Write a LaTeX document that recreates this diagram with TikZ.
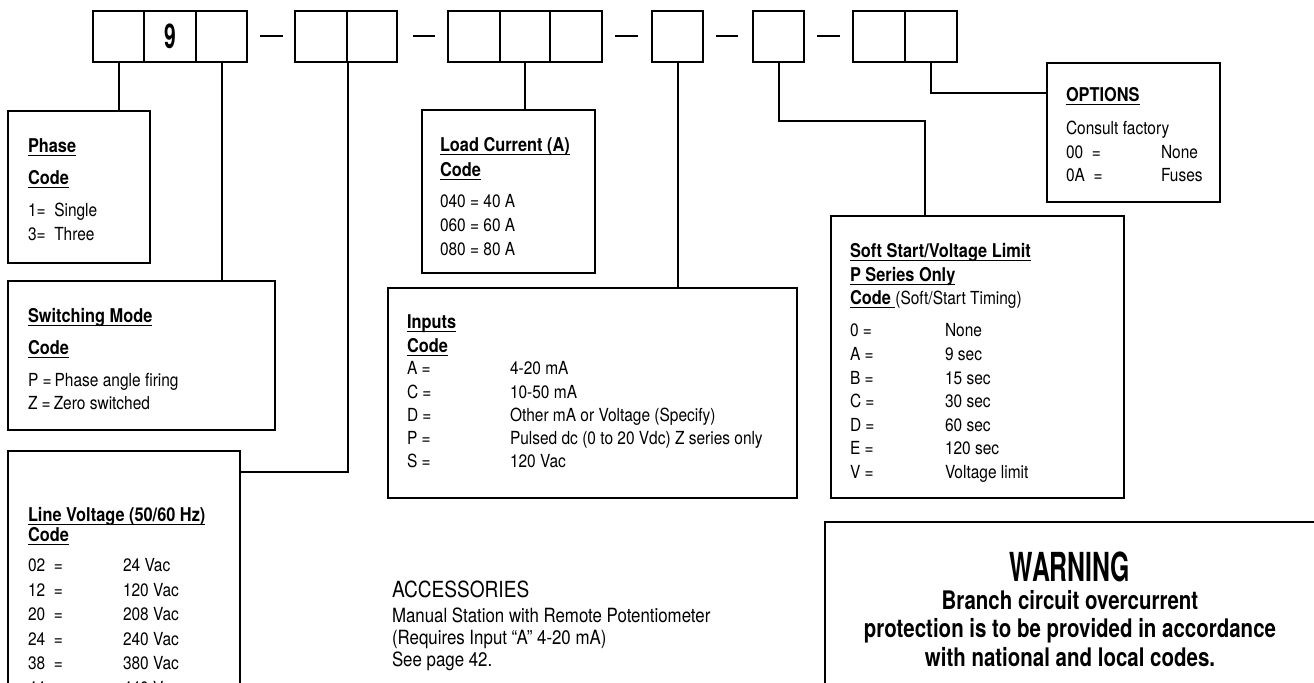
\documentclass[tikz,border=0pt]{standalone}
\usepackage{fontspec}
\setmainfont{TeX Gyre Heros}[FakeStretch=0.86]
\newfontfamily\warnfont{TeX Gyre Heros}[FakeStretch=0.62]
\newfontfamily\noticefont{TeX Gyre Heros}[FakeStretch=0.8]
\usetikzlibrary{fit}

% bold heading with a close underline
\newlength\hdwd
\newcommand\hdline[1]{\settowidth\hdwd{\bfseries #1}\textbf{#1}\hspace{-\hdwd}\rule[-1.6pt]{\hdwd}{0.5pt}}

\begin{document}
\begin{tikzpicture}[x=0.5pt,y=-0.5pt,line width=1pt,
  box/.style={draw,rectangle,inner sep=0pt,line width=1pt},
  txt/.style={anchor=base west,inner sep=0pt,font=\fontsize{9}{10}\selectfont},
  head/.style={txt,font=\fontsize{9.5}{11}\selectfont\bfseries},
  warn/.style={anchor=base,inner sep=0pt,font=\noticefont\bfseries\fontsize{12.8}{14}\selectfont}]
  \clip (0,0) rectangle (1314,683);
  % part number cells
  \foreach \n/\xa/\xb in {c1/93/144,c2/144/196,c3/196/247,c4/295/347,c5/347/397,
      c6/448/500,c7/500/550,c8/550/602,c9/652/703,c10/753/804,c11/853/905,c12/905/957}
    \node[box,fit={(\xa,11) (\xb,62)}] (\n) {};
  \node[font=\warnfont\bfseries\fontsize{17}{17}\selectfont] (nine) at (c2) {9};
  \foreach \xa/\xb in {260/283,413/435,615/638,716/738,817/840}
    \draw (\xa,36) -- (\xb,36);

  % description boxes
  \node[box,fit={(8,111) (150,263)}] (phase) {};
  \node[box,fit={(8,281) (275,430)}] (sw) {};
  \node[box,fit={(8,451) (240,760)}] (lv) {};
  \node[box,fit={(422,110) (595,273)}] (load) {};
  \node[box,fit={(388,288) (797,498)}] (inp) {};
  \node[box,fit={(831,216) (1124,498)}] (soft) {};
  \node[box,fit={(1047,63) (1220,202)}] (opt) {};
  \node[box,fit={(825,522) (1340,720)}] (warnbox) {};

  % connectors
  \coordinate (lvin) at (240,472);
  \coordinate (softbend) at (925,121);
  \coordinate (optin) at (1047,93);
  \draw (c1.south) -- (c1.south |- phase.north);
  \draw (c3.south) -- (c3.south |- sw.north);
  \draw (c4.south east) |- (lvin);
  \draw (c7.south) -- (c7.south |- load.north);
  \draw (c9.south) -- (c9.south |- inp.north);
  \draw (c10.south) |- (softbend) -- (softbend |- soft.north);
  \draw (c12.south) |- (optin);

  % Phase
  \node[head] (phT) at (27,153) {\hdline{Phase}};
  \node[head] (phC) at (27,185) {\hdline{Code}};
  \node[txt] (ph1) at (27,217) {1=\ \ Single};
  \node[txt] (ph3) at (27,241) {3=\ \ Three};

  % Switching mode
  \node[head] (swT) at (27,323) {\hdline{Switching Mode}};
  \node[head] (swC) at (27,355) {\hdline{Code}};
  \node[txt] (swP) at (27,387) {P =\,Phase angle firing};
  \node[txt] (swZ) at (27,410) {Z =\,Zero switched};

  % Line voltage
  \node[head] (lvT) at (27,522) {\hdline{Line Voltage (50/60 Hz)}};
  \node[head] (lvC) at (27,542) {\hdline{Code}};
  \foreach \c/\v [count=\i from 0] in {02/24 Vac,12/120 Vac,20/208 Vac,24/240 Vac,38/380 Vac,44/440 Vac}{
    \node[txt] (lvc\c) at (27,{572+24.5*\i}) {\c\ \ =};
    \node[txt] (lvv\c) at (122,{572+24.5*\i}) {\v};
  }

  % Load current
  \node[head] (ldT) at (439,152) {\hdline{Load Current (A)}};
  \node[head] (ldC) at (439,177) {\hdline{Code}};
  \node[txt] (ld40) at (439,208) {040 = 40 A};
  \node[txt] (ld60) at (439,232) {060 = 60 A};
  \node[txt] (ld80) at (439,256) {080 = 80 A};

  % Inputs
  \node[head] (inT) at (406,329) {\hdline{Inputs}};
  \node[head] (inC) at (406,353) {\hdline{Code}};
  \foreach \c/\v [count=\i from 0] in {A/4-20 mA,C/10-50 mA,D/Other mA or Voltage (Specify),
      P/Pulsed dc (0 to 20 Vdc) Z series only,S/120 Vac}{
    \node[txt] (inc\c) at (406,{375+23.2*\i}) {\c\ =};
    \node[txt] (inv\c) at (509,{375+23.2*\i}) {\v};
  }

  % Soft start
  \node[head] (ssT) at (849,258) {\hdline{Soft Start/Voltage Limit}};
  \node[head] (ssP) at (849,282) {\hdline{P Series Only}};
  \node[txt] (ssC) at (849,305) {{\fontsize{9.5}{11}\selectfont\hdline{Code }}(Soft/Start Timing)};
  \foreach \c/\v [count=\i from 0] in {0/None,A/9 sec,B/15 sec,C/30 sec,D/60 sec,E/120 sec,V/Voltage limit}{
    \node[txt] (ssc\c) at (849,{337+23.6*\i}) {\c\ =};
    \node[txt] (ssv\c) at (944,{337+23.6*\i}) {\v};
  }

  % Options
  \node[head] (opT) at (1065,102) {\hdline{OPTIONS}};
  \node[txt] (opF) at (1065,135) {Consult factory};
  \node[txt] (op00) at (1065,159) {00\ \ =};
  \node[txt] (opv00) at (1160,159) {None};
  \node[txt] (op0A) at (1065,182) {0A\ \ =};
  \node[txt] (opv0A) at (1160,182) {Fuses};

  % Accessories
  \node[txt,font=\fontsize{11.1}{12}\selectfont] (acT) at (391,598) {ACCESSORIES};
  \node[txt,font=\fontsize{9.8}{11}\selectfont] (ac1) at (391,623) {Manual Station with Remote Potentiometer};
  \node[txt,font=\fontsize{9.8}{11}\selectfont] (ac2) at (391,645) {(Requires Input “A” 4-20 mA)};
  \node[txt,font=\fontsize{9.8}{11}\selectfont] (ac3) at (391,667) {See page 42.};

  % Warning
  \node[warn,font=\warnfont\bfseries\fontsize{20}{21}\selectfont] (wT) at (1070,582) {WARNING};
  \node[warn] (w1) at (1070,610) {Branch circuit overcurrent};
  \node[warn] (w2) at (1070,638) {protection is to be provided in accordance};
  \node[warn] (w3) at (1070,667) {with national and local codes.};
\end{tikzpicture}
\end{document}
